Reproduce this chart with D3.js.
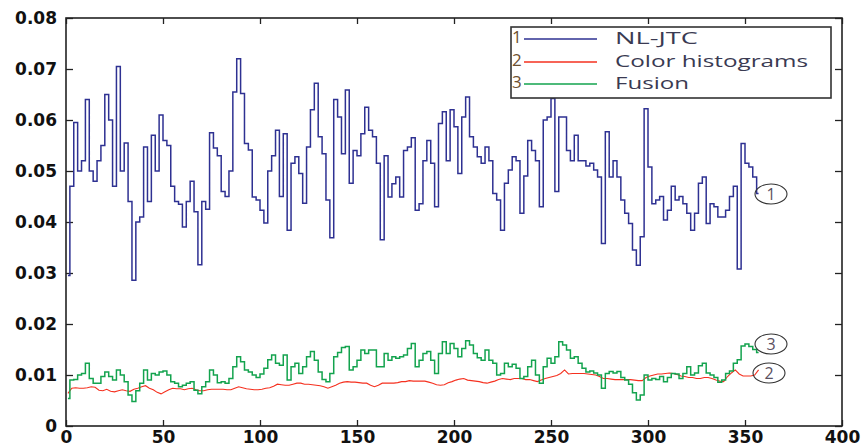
<!DOCTYPE html>
<html><head><meta charset="utf-8">
<script src="https://cdn.jsdelivr.net/npm/d3@7"></script>
<style>body{margin:0;background:#fff}svg{display:block}</style>
</head><body>
<svg id="c" width="862" height="446"></svg>
<script>
// sample index (every 2nd frame)
const frames = d3.range(1, 358, 2);
const seriesNames = ["NL-JTC", "Color histograms", "Fusion"];
const xTicks = [0,50,100,150,200,250,300,350,400];
const yTicks = [0,0.01,0.02,0.03,0.04,0.05,0.06,0.07,0.08];

const nljtc = [
0.0295,0.047,0.0595,0.050,0.052,0.064,0.050,0.048,0.052,0.055,
0.065,0.060,0.047,0.0705,0.050,0.0555,0.044,0.0286,0.040,0.041,
0.0547,0.044,0.057,0.050,0.061,0.056,0.055,0.047,0.044,0.0435,
0.039,0.044,0.048,0.042,0.0316,0.044,0.0425,0.0575,0.0545,0.053,
0.046,0.045,0.050,0.0655,0.072,0.0652,0.0554,0.0541,0.0449,0.0443,
0.0423,0.0398,0.050,0.053,0.058,0.045,0.0573,0.0384,0.0515,0.0528,
0.0495,0.0437,0.0547,0.062,0.0672,0.0567,0.0534,0.0443,0.0369,0.064,
0.0606,0.0534,0.0659,0.0476,0.054,0.053,0.0573,0.0625,0.058,0.0567,
0.0515,0.0365,0.053,0.0449,0.0475,0.0488,0.0449,0.054,0.0547,0.0565,
0.0423,0.0436,0.052,0.056,0.0515,0.043,0.0593,0.0616,0.052,0.062,
0.0587,0.0495,0.0606,0.0645,0.0567,0.0547,0.0528,0.0515,0.0547,0.052,
0.0456,0.0443,0.0384,0.0476,0.0502,0.0528,0.052,0.0417,0.049,0.056,
0.054,0.052,0.043,0.060,0.0606,0.0642,0.046,0.0606,0.0606,0.054,
0.052,0.057,0.052,0.052,0.051,0.0515,0.0502,0.0488,0.0358,0.0577,
0.0488,0.052,0.0488,0.0443,0.0417,0.0397,0.0345,0.0315,0.0371,0.0622,
0.0508,0.0436,0.0443,0.045,0.0404,0.0423,0.047,0.0443,0.045,0.0436,
0.0417,0.0384,0.0417,0.0476,0.0488,0.0397,0.0436,0.043,0.041,0.041,
0.0423,0.045,0.047,0.0308,0.0554,0.0515,0.0508,0.0488,0.0456];

const colorHist = [
0.0064,0.0074,0.0075,0.0074,0.0074,0.0075,0.0077,0.0076,0.007,0.0069,
0.0072,0.0068,0.0067,0.0069,0.0071,0.0069,0.0068,0.0072,0.0074,0.0077,
0.0079,0.0074,0.0071,0.0066,0.0063,0.0067,0.0071,0.0074,0.0073,0.0073,
0.0071,0.0073,0.0074,0.0071,0.0069,0.0069,0.0071,0.0072,0.0072,0.0072,
0.0072,0.0071,0.0071,0.0074,0.0077,0.0075,0.0073,0.0072,0.0071,0.0071,
0.0072,0.0074,0.0075,0.0078,0.0082,0.0081,0.008,0.008,0.0082,0.0084,
0.0084,0.0082,0.0082,0.0081,0.008,0.0079,0.0077,0.0074,0.0077,0.008,
0.0084,0.0086,0.0087,0.0086,0.0086,0.0085,0.0084,0.0084,0.008,0.0077,
0.008,0.0084,0.0084,0.0084,0.0084,0.0085,0.0087,0.0087,0.0089,0.0088,
0.0088,0.0088,0.0088,0.0086,0.0084,0.0081,0.008,0.0081,0.0085,0.0087,
0.009,0.0092,0.0093,0.009,0.0089,0.0088,0.0087,0.0085,0.0084,0.0086,
0.0088,0.0091,0.0093,0.0092,0.0091,0.0093,0.0093,0.0093,0.0091,0.0091,
0.0089,0.0087,0.009,0.0093,0.0095,0.0097,0.0099,0.0103,0.011,0.0102,
0.0103,0.0103,0.0103,0.0103,0.0102,0.0101,0.01,0.0097,0.0093,0.0093,
0.0092,0.0091,0.0091,0.0091,0.0091,0.0091,0.009,0.0089,0.0089,0.0095,
0.0098,0.01,0.0102,0.0102,0.0103,0.0104,0.0103,0.0101,0.0098,0.0097,
0.0095,0.0095,0.0093,0.0093,0.0095,0.0095,0.0093,0.009,0.0088,0.0087,
0.0097,0.0104,0.011,0.0102,0.0098,0.0098,0.0098,0.01,0.011];

const fusion = [
0.0054,0.009,0.0091,0.010,0.0103,0.0123,0.0093,0.0084,0.0084,0.0097,
0.0106,0.0097,0.009,0.011,0.010,0.0087,0.0061,0.0048,0.0069,0.0084,
0.011,0.009,0.0103,0.010,0.0106,0.0108,0.010,0.0087,0.0084,0.0077,
0.008,0.0084,0.0087,0.007,0.0063,0.0077,0.0087,0.011,0.010,0.0085,
0.0087,0.0084,0.0093,0.0116,0.0136,0.0126,0.011,0.0106,0.010,0.0095,
0.0102,0.0113,0.013,0.0139,0.0123,0.0119,0.0139,0.009,0.0116,0.0123,
0.0103,0.0116,0.0136,0.0146,0.0129,0.0106,0.0091,0.0087,0.0103,0.0136,
0.0144,0.0154,0.0156,0.011,0.0116,0.0129,0.0149,0.0142,0.0149,0.0149,
0.0116,0.0116,0.0142,0.0129,0.0136,0.0133,0.0136,0.0139,0.0152,0.0162,
0.0116,0.0129,0.0142,0.0146,0.0129,0.0103,0.0142,0.0165,0.0142,0.0162,
0.0152,0.0136,0.0152,0.0167,0.0159,0.0142,0.0134,0.0129,0.0149,0.0129,
0.0123,0.010,0.0103,0.0123,0.0116,0.0121,0.0113,0.0093,0.0097,0.0116,
0.0129,0.010,0.0084,0.0116,0.0133,0.0123,0.0136,0.0165,0.0159,0.0149,
0.0133,0.0136,0.0123,0.0113,0.0106,0.0108,0.0104,0.010,0.0074,0.0103,
0.0107,0.0104,0.0107,0.0095,0.009,0.0082,0.0065,0.0051,0.0061,0.010,
0.009,0.0093,0.0091,0.0097,0.0087,0.0095,0.0103,0.0102,0.0093,0.0103,
0.0116,0.010,0.0104,0.0118,0.0123,0.0104,0.010,0.0095,0.0086,0.009,
0.0103,0.0108,0.0123,0.013,0.0157,0.0161,0.0156,0.015,0.0144];

const colors = ["#2e3192", "#f5301f", "#13a34e"];

const svg = d3.select("#c");
const m = {l:66, t:18, w:776, h:408};
const x = d3.scaleLinear().domain([0,400]).range([m.l, m.l+m.w]);
const y = d3.scaleLinear().domain([0,0.08]).range([m.t+m.h, m.t]);

const tickFont = "bold 17px 'DejaVu Sans', sans-serif";
function styleAxis(g){
  g.select(".domain").remove();
  g.selectAll(".tick line").attr("stroke","#222").attr("stroke-width",1.3);
  g.selectAll(".tick text").attr("fill","#111").style("font", tickFont);
}
svg.append("g").attr("transform",`translate(0,${m.t+m.h})`)
  .call(d3.axisBottom(x).tickValues(xTicks).tickSizeInner(-6).tickSizeOuter(0).tickPadding(5).tickFormat(d3.format("d")))
  .call(styleAxis);
svg.append("g").attr("transform",`translate(0,${m.t})`)
  .call(d3.axisTop(x).tickValues(xTicks).tickSizeInner(-6).tickSizeOuter(0).tickFormat(""))
  .call(styleAxis);
svg.append("g").attr("transform",`translate(${m.l},0)`)
  .call(d3.axisLeft(y).tickValues(yTicks).tickSizeInner(-7).tickSizeOuter(0).tickPadding(9).tickFormat(d => d===0 ? "0" : d3.format(".2f")(d)))
  .call(styleAxis);
svg.append("g").attr("transform",`translate(${m.l+m.w},0)`)
  .call(d3.axisRight(y).tickValues(yTicks).tickSizeInner(-7).tickSizeOuter(0).tickFormat(""))
  .call(styleAxis);

svg.append("rect").attr("x",m.l).attr("y",m.t).attr("width",m.w).attr("height",m.h)
  .attr("fill","none").attr("stroke","#222").attr("stroke-width",1.6);

const series = [nljtc, colorHist, fusion];
const curves = [d3.curveStep, d3.curveLinear, d3.curveStep];
const widths = [1.5, 1.1, 1.5];
[1,2,0].forEach(i => {
  const line = d3.line().x((d,j)=>x(frames[j])).y(d=>y(d)).curve(curves[i]);
  svg.append("path").datum(series[i]).attr("d", line)
    .attr("fill","none").attr("stroke",colors[i]).attr("stroke-width",widths[i]);
});

// legend
const lg = svg.append("g");
lg.append("rect").attr("x",511).attr("y",27).attr("width",320).attr("height",71)
  .attr("fill","#fff").attr("stroke","#333").attr("stroke-width",1.6);
const rowY = [39, 62, 84];
const textLen = [83, 193, 74];
seriesNames.forEach((name,i) => {
  lg.append("text").attr("x",512).attr("y",rowY[i]+4).text(String(i+1))
    .attr("fill","#6e5030").style("font","17px 'Open Sans', sans-serif");
  lg.append("line").attr("x1",524).attr("x2",597).attr("y1",rowY[i]).attr("y2",rowY[i])
    .attr("stroke",colors[i]).attr("stroke-width",1.3);
  lg.append("text").attr("x",615).attr("y",rowY[i]+4.5).text(name)
    .attr("textLength",textLen[i]).attr("lengthAdjust","spacingAndGlyphs")
    .attr("fill","#3a3a52").style("font","17px 'Open Sans', sans-serif");
});

// circled annotations
const ann = [{n:"1", cx:771, cy:194}, {n:"3", cx:771, cy:344}, {n:"2", cx:769, cy:373}];
ann.forEach(a => {
  svg.append("ellipse").attr("cx",a.cx).attr("cy",a.cy).attr("rx",16).attr("ry",10)
    .attr("fill","none").attr("stroke","#333").attr("stroke-width",1.1);
  svg.append("text").attr("x",a.cx).attr("y",a.cy+6).attr("text-anchor","middle").text(a.n)
    .attr("fill","#5a5060").style("font","16px 'Open Sans', sans-serif");
});
</script>
</body></html>
